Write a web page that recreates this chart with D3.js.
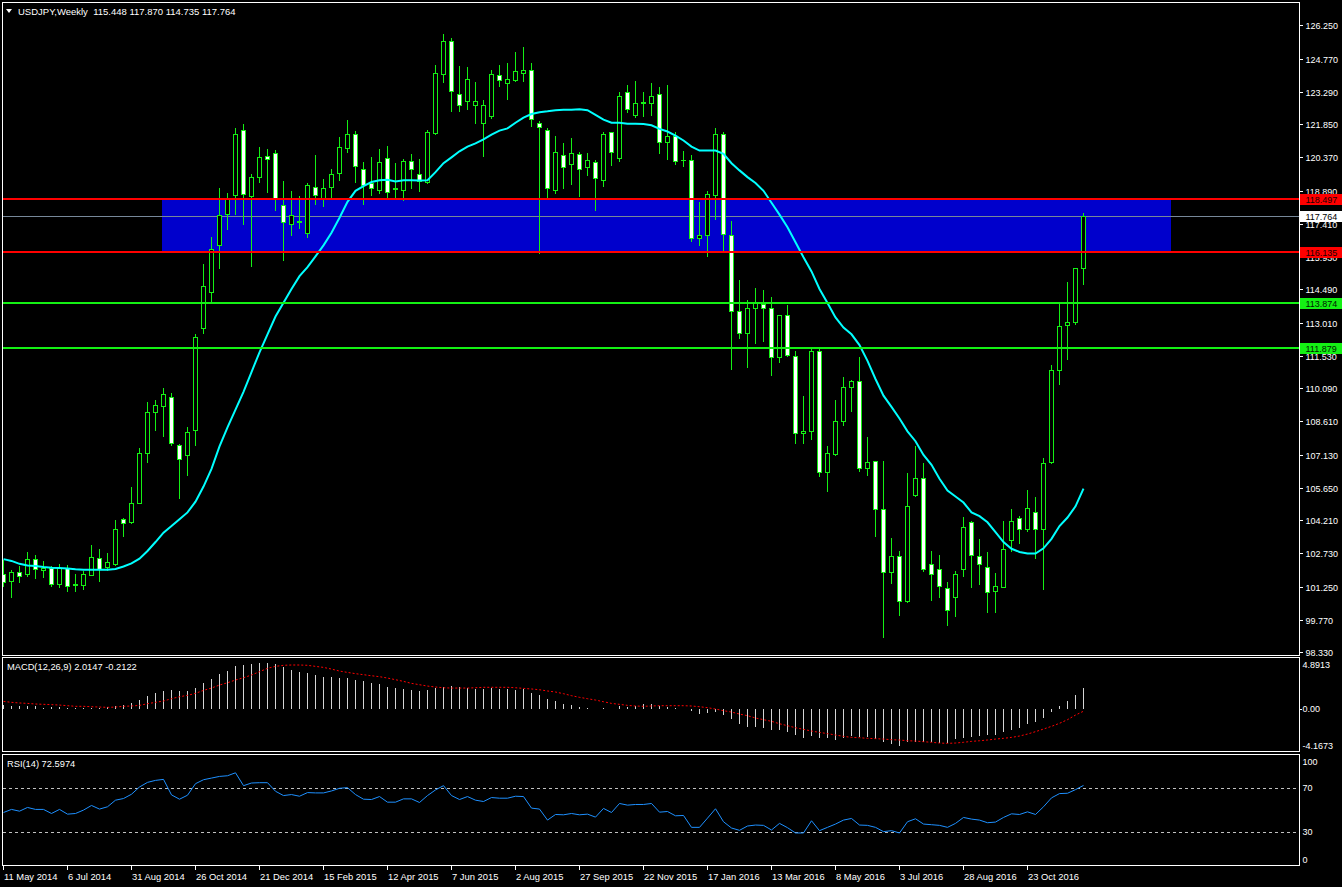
<!DOCTYPE html>
<html><head><meta charset="utf-8">
<script src="https://cdn.jsdelivr.net/npm/d3@7"></script>
<style>html,body{margin:0;padding:0;background:#000;overflow:hidden}</style>
</head><body>
<svg id="c" width="1342" height="887"></svg>
<script>
// ---------------- DATA (weekly USDJPY, 11 May 2014 ... 11 Dec 2016) ----------------
const openP = [101.83,101.52,101.92,101.83,102.50,102.01,102.08,101.39,102.08,101.34,
101.34,101.76,102.54,102.15,102.27,104.25,104.12,105.00,107.19,109.02,
109.28,109.72,107.54,107.12,108.21,112.75,114.39,116.48,117.86,118.70,
121.57,118.67,119.50,120.41,120.55,118.23,117.42,117.49,116.98,119.04,
118.53,119.07,119.69,120.80,121.43,119.83,119.21,118.90,120.32,118.95,
118.90,120.20,119.65,119.27,121.47,124.06,125.57,123.21,122.89,122.72,
121.89,122.19,124.02,123.70,123.83,124.11,124.25,121.89,121.61,118.90,
120.46,120.09,120.50,119.95,120.15,119.34,121.49,120.36,123.26,122.24,
122.81,122.81,123.21,121.06,121.31,120.27,120.27,116.80,116.89,118.70,
121.40,116.93,113.51,112.57,113.68,113.86,113.68,111.50,113.33,111.54,
108.08,108.17,111.76,106.34,107.17,108.65,110.13,110.39,106.52,106.84,
104.72,101.89,102.64,100.60,105.32,106.11,102.24,102.03,101.18,100.78,
102.06,104.11,102.61,102.15,101.04,101.23,103.31,104.33,103.84,104.56,
103.84,106.80,110.88,112.89,113.02,115.448];
const highP = [102.45,102.01,102.19,102.80,102.68,102.40,102.19,102.26,102.22,101.83,
101.96,103.10,102.93,102.75,104.21,104.33,105.71,107.43,109.48,109.55,
110.09,109.86,107.61,108.35,112.49,115.62,116.84,119.00,118.77,121.68,
121.85,119.62,120.83,120.75,120.68,119.32,118.88,118.65,119.23,120.48,
119.41,119.83,121.27,122.03,121.54,120.17,120.39,120.75,120.87,120.11,
120.29,120.52,120.29,121.57,124.48,125.87,125.68,124.44,124.39,123.72,
122.93,124.25,124.48,124.57,125.06,125.29,124.57,121.99,121.68,121.33,
121.01,121.24,120.59,120.57,120.25,121.50,121.52,123.28,123.60,123.77,
123.28,123.69,123.51,123.60,121.49,120.66,120.48,118.39,118.88,121.68,
121.50,117.54,114.90,114.02,114.55,114.46,114.14,113.33,113.79,111.76,
109.74,111.85,111.85,107.52,109.56,110.59,110.46,111.48,107.91,106.84,
106.85,103.42,102.84,106.31,107.52,106.76,102.84,102.66,101.48,101.96,
104.35,104.18,103.37,102.80,101.87,104.19,104.69,104.42,105.57,105.25,
106.98,111.11,113.88,114.81,115.43,117.870];
const lowP = [101.30,100.81,101.45,101.74,101.62,101.69,101.30,101.22,101.08,101.08,
101.16,101.76,101.52,102.01,102.22,103.51,104.09,105.00,106.80,108.24,
107.96,107.54,105.18,106.24,107.56,112.57,113.90,115.45,117.19,117.86,
117.40,115.53,119.27,118.83,118.03,115.81,116.89,117.24,116.84,118.31,
118.21,118.60,119.35,120.59,119.27,118.31,118.70,118.79,118.53,118.53,
118.47,119.00,118.88,119.21,121.43,123.72,122.44,122.44,122.54,121.91,
120.41,122.14,123.55,122.96,123.77,123.77,121.77,116.13,118.56,118.77,
119.00,119.18,118.65,119.58,118.02,119.09,120.01,120.20,122.40,122.17,
122.21,122.26,120.57,120.29,120.09,119.99,116.66,116.48,115.96,117.63,
116.24,110.95,112.31,111.04,112.12,112.21,110.66,111.24,111.54,107.66,
107.63,107.84,106.20,105.53,107.13,108.47,109.09,106.40,106.24,103.51,
99.02,101.41,99.97,100.56,105.27,101.97,100.67,100.81,99.53,99.93,
101.74,101.22,101.39,100.11,100.11,101.23,102.85,103.19,103.72,102.54,
101.16,106.75,110.27,111.38,112.96,114.735];
const closeP = [101.48,101.92,101.71,102.47,102.04,102.10,101.36,102.10,101.27,101.36,
101.80,102.59,102.04,102.33,103.84,104.07,104.97,107.22,109.05,109.32,
109.83,107.64,106.94,108.14,112.35,114.62,116.27,117.79,118.51,121.40,
118.72,119.51,120.38,120.31,118.51,117.51,117.82,117.52,119.13,118.70,
118.99,119.65,120.82,121.40,119.97,119.13,118.99,120.15,118.81,118.99,
120.20,119.83,119.30,121.52,124.11,125.57,123.32,122.70,123.85,122.86,
122.68,124.06,123.81,123.85,124.20,124.28,122.07,121.70,118.99,120.59,
119.95,120.55,119.87,120.24,119.46,121.43,120.59,123.09,122.52,122.77,
122.84,123.09,121.06,121.31,120.22,120.24,116.80,116.89,118.72,121.40,
116.94,113.53,112.57,113.68,113.90,113.68,111.50,113.33,111.59,108.08,
108.17,111.76,106.34,107.19,108.65,110.13,110.41,106.52,106.80,104.72,
101.89,102.64,100.60,104.83,106.09,102.04,101.80,101.27,100.20,101.80,
103.93,102.68,102.24,101.01,101.30,102.93,104.16,103.81,104.74,103.84,
106.78,110.92,112.84,113.02,115.43,117.764];
const maLine = [102.48,102.40,102.27,102.20,102.17,102.13,102.10,102.08,102.06,102.03,
102.01,102.01,102.01,102.01,102.04,102.15,102.29,102.50,102.84,103.24,
103.66,103.95,104.26,104.56,105.04,105.71,106.50,107.50,108.35,109.14,
109.93,110.81,111.69,112.49,113.28,113.90,114.51,115.08,115.48,115.96,
116.45,117.01,117.68,118.39,118.88,119.09,119.27,119.35,119.37,119.30,
119.35,119.35,119.34,119.35,119.71,120.11,120.37,120.64,120.85,120.99,
121.17,121.38,121.56,121.66,121.91,122.14,122.30,122.38,122.42,122.47,
122.49,122.49,122.51,122.47,122.26,122.05,121.91,121.91,121.87,121.87,
121.85,121.80,121.64,121.52,121.34,121.12,120.85,120.67,120.67,120.67,
120.53,120.11,119.79,119.49,119.23,118.88,118.35,117.82,117.26,116.59,
115.92,115.29,114.51,113.88,113.24,112.79,112.49,112.01,111.31,110.50,
109.76,109.26,108.74,108.17,107.73,107.12,106.68,106.06,105.53,105.27,
105.00,104.56,104.39,104.12,103.68,103.24,102.94,102.80,102.73,102.73,
102.96,103.38,103.95,104.33,104.83,105.62];
const macdHist = [0.38,0.26,0.26,0.26,0.29,0.13,0.19,0.19,0.13,0.10,
0.10,0.13,0.13,0.19,0.29,0.38,0.58,0.89,1.21,1.57,
1.73,1.82,1.76,1.73,2.01,2.49,2.88,3.32,3.64,4.15,
4.25,4.35,4.41,4.41,4.28,4.06,3.71,3.55,3.42,3.26,
3.07,3.07,2.97,2.94,2.81,2.68,2.52,2.40,2.14,2.01,
1.92,1.82,1.69,1.79,1.98,2.08,2.20,2.08,2.01,1.95,
1.95,1.98,1.95,1.88,1.85,1.88,1.57,1.37,0.93,0.80,
0.48,0.38,0.16,0.13,0.02,0.06,0.03,0.26,0.19,0.26,
0.45,0.48,0.26,0.19,0.13,-0.03,-0.19,-0.48,-0.42,-0.32,
-0.54,-0.96,-1.44,-1.69,-1.69,-1.82,-1.98,-2.01,-2.24,-2.46,
-2.78,-2.62,-2.81,-2.81,-2.97,-2.81,-2.62,-2.72,-2.72,-2.88,
-3.13,-3.39,-3.51,-3.19,-3.13,-3.19,-3.13,-3.26,-3.26,-2.88,
-2.81,-2.65,-2.56,-2.49,-2.49,-2.17,-1.98,-1.82,-1.44,-1.21,
-0.89,-0.26,0.32,0.80,1.34,2.01];
const macdSignal = [0.73,0.64,0.58,0.54,0.48,0.45,0.42,0.38,0.32,0.26,
0.26,0.22,0.19,0.16,0.19,0.26,0.29,0.35,0.51,0.64,
0.77,0.99,1.18,1.31,1.50,1.79,2.01,2.30,2.52,2.78,
3.00,3.26,3.58,3.90,4.09,4.19,4.22,4.22,4.19,4.09,
3.99,3.83,3.64,3.51,3.39,3.29,3.19,3.10,2.97,2.81,
2.65,2.46,2.33,2.20,2.11,2.04,2.01,2.01,2.01,2.04,
2.08,2.08,2.08,2.08,2.04,1.98,1.92,1.85,1.73,1.63,
1.47,1.28,1.12,0.99,0.86,0.70,0.54,0.45,0.35,0.29,
0.26,0.29,0.32,0.32,0.32,0.32,0.29,0.22,0.13,0.00,
-0.16,-0.29,-0.48,-0.64,-0.86,-1.02,-1.18,-1.41,-1.60,-1.79,
-1.95,-2.11,-2.24,-2.36,-2.49,-2.62,-2.72,-2.75,-2.81,-2.84,
-2.88,-2.94,-2.97,-3.04,-3.07,-3.13,-3.19,-3.26,-3.29,-3.26,
-3.19,-3.10,-3.04,-2.97,-2.88,-2.81,-2.72,-2.59,-2.40,-2.17,
-1.92,-1.66,-1.37,-1.02,-0.58,-0.21];
const rsiLine = [48.0,50.8,49.2,52.6,50.8,50.8,47.1,50.8,46.5,47.1,
50.2,54.4,51.1,53.2,59.2,60.7,64.6,71.2,75.4,77.2,
78.1,64.0,60.1,63.7,74.2,77.8,79.3,80.8,81.4,84.1,
72.4,74.8,75.1,75.1,67.3,63.4,64.3,62.8,66.1,65.8,
65.8,67.6,70.0,70.6,64.3,60.1,59.8,62.5,57.4,57.4,
60.4,60.4,57.1,63.4,68.5,72.4,63.4,59.8,62.5,59.2,
58.0,61.6,61.0,61.0,62.8,62.5,52.0,51.1,41.1,46.2,
45.9,47.1,45.9,46.5,43.8,51.7,48.0,56.2,54.7,55.3,
55.3,56.2,48.3,48.9,45.0,45.3,34.5,34.5,42.9,51.4,
39.6,33.9,31.8,35.7,36.6,36.3,32.1,38.1,34.2,29.4,
29.4,40.5,31.5,34.5,37.5,41.1,42.6,36.6,36.3,34.5,
30.6,31.5,29.4,39.6,42.3,37.5,36.9,36.3,34.5,38.1,
43.5,42.0,41.1,38.7,39.3,43.5,46.8,46.2,48.6,46.2,
53.2,61.3,65.2,65.5,68.8,72.6];
const dateLabels = ["11 May 2014","6 Jul 2014","31 Aug 2014","26 Oct 2014","21 Dec 2014",
"15 Feb 2015","12 Apr 2015","7 Jun 2015","2 Aug 2015","27 Sep 2015","22 Nov 2015",
"17 Jan 2016","13 Mar 2016","8 May 2016","3 Jul 2016","28 Aug 2016","23 Oct 2016"];
const dateLabelBars = [0,8,16,24,32,40,48,56,64,72,80,88,96,104,112,120,128];
const priceTicks = [126.25,124.77,123.29,121.85,120.37,118.89,117.41,115.93,114.49,113.01,
111.53,110.09,108.61,107.13,105.65,104.21,102.73,101.25,99.77,98.33];
const macdTicks = [4.8913,0,-4.1673];
const macdTickText = ["4.8913","0.00","-4.1673"];
const rsiTicks = [100,70,30,0];
const rsiLevels = [70,30];
const resistance = [118.497,116.135];
const support = [113.874,111.879];
const lastPrice = 117.764;
const zoneBars = [20,146];
const titleText = "USDJPY,Weekly  115.448 117.870 114.735 117.764";
const macdTitle = "MACD(12,26,9) 2.0147 -0.2122";
const rsiTitle = "RSI(14) 72.5974";

// ---------------- DRAW ----------------
const W=1342,H=887;
const FONT="'Liberation Sans', Arial, sans-serif";
const FS=9;
const GREEN="#14f014";
const svg=d3.select("#c");
svg.append("rect").attr("width",W).attr("height",H).attr("fill","#000");
const N=closeP.length;
const bars=d3.range(N);
const x=d3.scaleLinear().domain([0,135]).range([3,1083]);
const y=d3.scaleLinear().domain([98.33,126.25]).range([652.3,25.3]);
const yM=d3.scaleLinear().domain([-4.1673,4.8913]).range([752.5,658]);
const yR=d3.scaleLinear().domain([0,100]).range([865.3,755.3]);
const R=v=>Math.round(v);

const defs=svg.append("defs");
defs.append("clipPath").attr("id","cm").append("rect").attr("x",3).attr("y",3).attr("width",1296).attr("height",652);
defs.append("clipPath").attr("id","cd").append("rect").attr("x",3).attr("y",658).attr("width",1296).attr("height",93);
defs.append("clipPath").attr("id","cr").append("rect").attr("x",3).attr("y",755).attr("width",1296).attr("height",110);

const main=svg.append("g").attr("clip-path","url(#cm)");
// zone rectangle
main.append("rect")
  .attr("x",x(zoneBars[0])-1).attr("width",x(zoneBars[1])-x(zoneBars[0])+1)
  .attr("y",R(y(resistance[0]))).attr("height",R(y(resistance[1]))-R(y(resistance[0])))
  .attr("fill","#0000cc");
// last price line
main.append("line").attr("x1",3).attr("x2",1299)
  .attr("y1",R(y(lastPrice))+0.5).attr("y2",R(y(lastPrice))+0.5)
  .attr("stroke","#778899").attr("stroke-width",1);

// candles
const cg=main.append("g");
bars.forEach(i=>{
  const cx=x(i);
  const o=openP[i],c=closeP[i],h=highP[i],l=lowP[i];
  const yt=R(y(Math.max(o,c))), yb=R(y(Math.min(o,c)));
  cg.append("line").attr("x1",cx+0.5).attr("x2",cx+0.5)
    .attr("y1",R(y(h))).attr("y2",R(y(l))+1)
    .attr("stroke",GREEN).attr("stroke-width",1);
  if(yb-yt<1){
    cg.append("line").attr("x1",cx-2).attr("x2",cx+3)
      .attr("y1",yt+0.5).attr("y2",yt+0.5).attr("stroke",GREEN);
  } else {
    cg.append("rect").attr("x",cx-1.5).attr("y",yt+0.5)
      .attr("width",4).attr("height",yb-yt)
      .attr("fill",c>=o?"#000":"#fff").attr("stroke",GREEN).attr("stroke-width",1);
  }
});

// moving average
main.append("path").datum(maLine)
  .attr("d",d3.line().x((d,i)=>x(i)+0.5).y(d=>y(d)))
  .attr("fill","none").attr("stroke","#00ffff").attr("stroke-width",2);

// level lines
resistance.forEach(v=>{
  main.append("line").attr("x1",3).attr("x2",1299).attr("y1",R(y(v))).attr("y2",R(y(v)))
    .attr("stroke","#ff0000").attr("stroke-width",2);
});
support.forEach(v=>{
  main.append("line").attr("x1",3).attr("x2",1299).attr("y1",R(y(v))).attr("y2",R(y(v)))
    .attr("stroke",GREEN).attr("stroke-width",2);
});

// price axis
const ax=svg.append("g");
priceTicks.forEach(v=>{
  const yy=R(y(v));
  ax.append("line").attr("x1",1299).attr("x2",1303).attr("y1",yy+0.5).attr("y2",yy+0.5).attr("stroke","#fff");
  ax.append("text").attr("x",1305.5).attr("y",yy+0.5).attr("dominant-baseline","central")
    .attr("font-family",FONT).attr("font-size",FS).attr("fill","#fff").text(v.toFixed(3));
});
// price labels for lines
function priceTag(v,bg,fg){
  const yy=R(y(v));
  ax.append("rect").attr("x",1300).attr("y",yy-5).attr("width",42).attr("height",11).attr("fill",bg);
  ax.append("text").attr("x",1305.5).attr("y",yy+0.5).attr("dominant-baseline","central")
    .attr("font-family",FONT).attr("font-size",FS).attr("fill",fg).text(v.toFixed(3));
}
resistance.forEach(v=>priceTag(v,"#ff0000","#200000"));
support.forEach(v=>priceTag(v,GREEN,"#002000"));
priceTag(lastPrice,"#ffffff","#000");

// ---------- MACD panel ----------
const md=svg.append("g").attr("clip-path","url(#cd)");
bars.forEach(i=>{
  md.append("line").attr("x1",x(i)+0.5).attr("x2",x(i)+0.5)
    .attr("y1",R(yM(0))).attr("y2",R(yM(macdHist[i])))
    .attr("stroke","#d4d4d4").attr("stroke-width",1);
});
md.append("path").datum(macdSignal)
  .attr("d",d3.line().x((d,i)=>x(i)+0.5).y(d=>yM(d)))
  .attr("fill","none").attr("stroke","#ff0000").attr("stroke-width",1).attr("stroke-dasharray","2,2");
macdTicks.forEach((v,k)=>{
  const yy=Math.min(Math.max(yM(v),665),745.5);
  if(k===1) svg.append("line").attr("x1",1299).attr("x2",1302).attr("y1",R(yy)+0.5).attr("y2",R(yy)+0.5).attr("stroke","#fff");
  svg.append("text").attr("x",1302.5).attr("y",yy).attr("dominant-baseline","central")
    .attr("font-family",FONT).attr("font-size",FS).attr("fill","#fff").text(macdTickText[k]);
});

// ---------- RSI panel ----------
const rg=svg.append("g").attr("clip-path","url(#cr)");
rsiLevels.forEach(v=>{
  rg.append("line").attr("x1",3).attr("x2",1299).attr("y1",R(yR(v))+0.5).attr("y2",R(yR(v))+0.5)
    .attr("stroke","#c0c0c0").attr("stroke-width",1).attr("stroke-dasharray","3,3");
});
rg.append("path").datum(rsiLine)
  .attr("d",d3.line().x((d,i)=>x(i)+0.5).y(d=>yR(d)))
  .attr("fill","none").attr("stroke","#1e90ff").attr("stroke-width",1);
rsiTicks.forEach(v=>{
  const yy=Math.min(Math.max(yR(v),761.7),859.7);
  svg.append("text").attr("x",1302.5).attr("y",yy).attr("dominant-baseline","central")
    .attr("font-family",FONT).attr("font-size",FS).attr("fill","#fff").text(String(v));
});

// ---------- date axis ----------
dateLabels.forEach((t,k)=>{
  const xx=x(dateLabelBars[k]);
  svg.append("line").attr("x1",xx+0.5).attr("x2",xx+0.5).attr("y1",866).attr("y2",870).attr("stroke","#fff");
  svg.append("text").attr("x",xx+1).attr("y",876).attr("dominant-baseline","central")
    .attr("font-family",FONT).attr("font-size",9.4).attr("fill","#fff").text(t);
});

// ---------- borders ----------
const bd=svg.append("g").attr("fill","none").attr("stroke","#fff").attr("stroke-width",1);
bd.append("rect").attr("x",2.5).attr("y",2.5).attr("width",1297).attr("height",653);
bd.append("rect").attr("x",2.5).attr("y",657.5).attr("width",1297).attr("height",94);
bd.append("rect").attr("x",2.5).attr("y",754.5).attr("width",1297).attr("height",111);

// ---------- titles ----------
svg.append("path").attr("d","M6,9 L12,9 L9,13 Z").attr("fill","#fff");
svg.append("text").attr("x",18).attr("y",11).attr("dominant-baseline","central")
  .attr("font-family",FONT).attr("font-size",9.5).attr("fill","#fff").style("white-space","pre").text(titleText);
svg.append("text").attr("x",7).attr("y",667).attr("dominant-baseline","central")
  .attr("font-family",FONT).attr("font-size",9.3).attr("fill","#fff").text(macdTitle);
svg.append("text").attr("x",7).attr("y",764).attr("dominant-baseline","central")
  .attr("font-family",FONT).attr("font-size",9.3).attr("fill","#fff").text(rsiTitle);
</script>
</body></html>
